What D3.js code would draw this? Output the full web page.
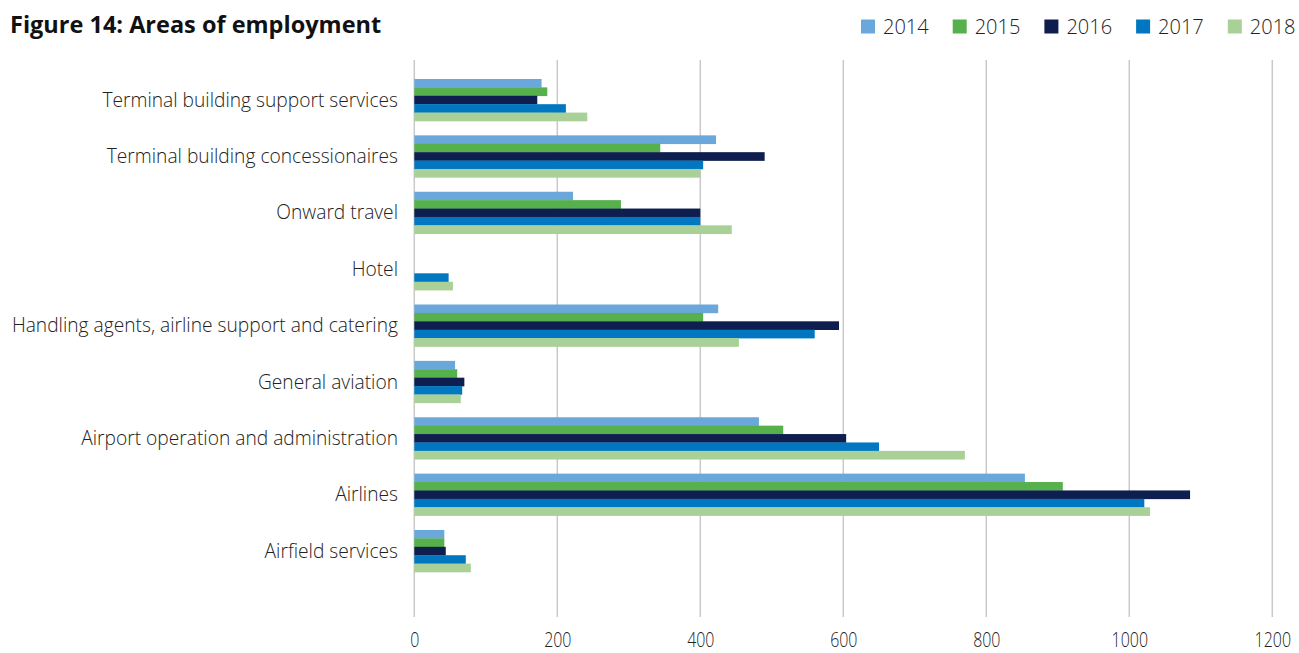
<!DOCTYPE html>
<html>
<head>
<meta charset="utf-8">
<script src="https://cdn.jsdelivr.net/npm/d3@7"></script>
<style>
  html, body { margin: 0; padding: 0; background: #fff; }
  svg { display: block; }
</style>
</head>
<body>
<svg id="chart" width="1299" height="653"></svg>
<script>
// Categories listed top to bottom
const categories = [
  "Terminal building support services",
  "Terminal building concessionaires",
  "Onward travel",
  "Hotel",
  "Handling agents, airline support and catering",
  "General aviation",
  "Airport operation and administration",
  "Airlines",
  "Airfield services"
];
const years = ["2014", "2015", "2016", "2017", "2018"];

// Employees per area, one array per year (same order as categories)
const v2014 = [178, 422, 222, 0, 425, 57, 482, 854, 42];
const v2015 = [186, 344, 289, 0, 404, 60, 516, 907, 42];
const v2016 = [172, 490, 400, 0, 594, 70, 604, 1085, 44];
const v2017 = [212, 404, 400, 48, 560, 67, 650, 1021, 72];
const v2018 = [242, 400, 444, 54, 454, 65, 770, 1029, 79];

const tickValues = [0, 200, 400, 600, 800, 1000, 1200];
const colors = ["#6aa8db", "#56b04c", "#0e1f4f", "#0077c0", "#a9d096"];

const seriesValues = [v2014, v2015, v2016, v2017, v2018];
const rows = categories.map((c, i) => ({
  category: c,
  values: years.map((y, j) => ({ year: y, value: seriesValues[j][i] }))
}));

const svg = d3.select("#chart");
const labelFont = "'Open Sans', 'Noto Sans', sans-serif";

const x = d3.scaleLinear().domain([0, 1200]).range([414.3, 1272.3]);
const y = d3.scaleBand().domain(categories).range([71.8, 579.2])
  .paddingInner(0.255).paddingOuter(0.1275);
const yInner = d3.scaleBand().domain(years).range([0, y.bandwidth()]);
const color = d3.scaleOrdinal().domain(years).range(colors);

// Vertical gridlines
svg.append("g")
  .selectAll("line")
  .data(tickValues)
  .join("line")
  .attr("x1", d => x(d)).attr("x2", d => x(d))
  .attr("y1", 60).attr("y2", 617)
  .attr("stroke", "#c9c9c9")
  .attr("stroke-width", 1.5);

// Bars
const groups = svg.append("g")
  .selectAll("g")
  .data(rows)
  .join("g")
  .attr("transform", d => `translate(0,${y(d.category)})`);

groups.selectAll("rect")
  .data(d => d.values.filter(v => v.value > 0))
  .join("rect")
  .attr("x", x(0))
  .attr("y", d => yInner(d.year))
  .attr("width", d => x(d.value) - x(0))
  .attr("height", yInner.bandwidth() + 0.3)
  .attr("fill", d => color(d.year));

// Category labels
svg.append("g")
  .selectAll("text")
  .data(categories)
  .join("text")
  .attr("x", 398)
  .attr("y", d => y(d) + y.bandwidth() / 2)
  .attr("dy", "0.35em")
  .attr("text-anchor", "end")
  .attr("font-family", labelFont)
  .attr("font-weight", 300)
  .attr("font-size", 19.2)
  .attr("fill", "#222")
  .text(d => d);

// Value axis labels (narrow digits)
const xAxis = d3.axisBottom(x).tickValues(tickValues)
  .tickFormat(d3.format("d")).tickSize(0).tickPadding(0);
const axisG = svg.append("g").attr("transform", "translate(0,647)").call(xAxis);
axisG.select(".domain").remove();
axisG.selectAll("text")
  .attr("dy", 0)
  .attr("font-family", labelFont)
  .attr("font-weight", 300)
  .attr("font-size", 21)
  .attr("fill", "#222")
  .attr("transform", "scale(0.76,1)");

// Title
svg.append("text")
  .attr("x", 10).attr("y", 33)
  .attr("font-family", labelFont)
  .attr("font-weight", 700)
  .attr("font-size", 23.5)
  .attr("fill", "#111")
  .text("Figure 14: Areas of employment");

// Legend
const legend = svg.append("g")
  .selectAll("g")
  .data(years)
  .join("g")
  .attr("transform", (d, i) => `translate(${861 + i * 91.7},19.5)`);
legend.append("rect")
  .attr("width", 14).attr("height", 14)
  .attr("fill", d => color(d));
legend.append("text")
  .attr("x", 22).attr("y", 7)
  .attr("dy", "0.35em")
  .attr("font-family", labelFont)
  .attr("font-weight", 300)
  .attr("font-size", 20)
  .attr("fill", "#222")
  .text(d => d);
</script>
</body>
</html>
